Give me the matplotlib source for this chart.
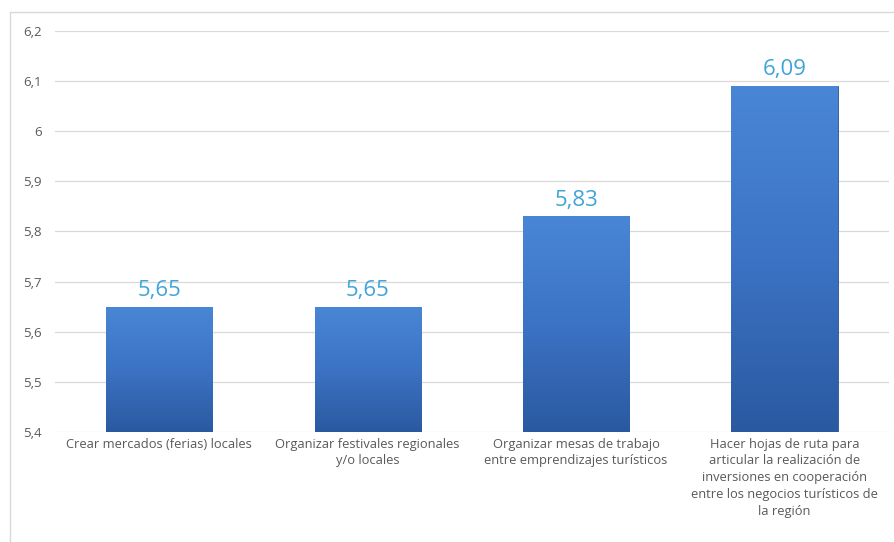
import matplotlib
matplotlib.use('Agg')
import matplotlib.pyplot as plt
import numpy as np
from matplotlib.patches import Rectangle
from matplotlib.ticker import FuncFormatter

categories = [
    "Crear mercados (ferias) locales",
    "Organizar festivales regionales\ny/o locales",
    "Organizar mesas de trabajo\nentre emprendizajes turísticos",
    "Hacer hojas de ruta para\narticular la realización de\ninversiones en cooperación\nentre los negocios turísticos de\nla región",
]
values = [5.65, 5.65, 5.83, 6.09]
y_ticks = [5.4, 5.5, 5.6, 5.7, 5.8, 5.9, 6.0, 6.1, 6.2]

plt.rcParams['font.family'] = ['Open Sans', 'DejaVu Sans']

fig = plt.figure(figsize=(8.95, 5.42), dpi=100)
ax = fig.add_axes([0.0615, 0.203, 0.9315, 0.740])

# outer chart border
fig.patches.append(Rectangle((10 / 895, -0.05), 1.0, 1.05 - 12 / 542,
                             transform=fig.transFigure, fill=False,
                             edgecolor='#d9d9d9', linewidth=1.0))

x = np.arange(len(categories))
bars = ax.bar(x, [v - 5.4 for v in values], bottom=5.4, width=0.51,
              color='#3a6fc0', edgecolor='#2a5590', linewidth=0.6, zorder=3)

# vertical gradient inside each bar (lighter top, darker bottom)
grad = np.linspace(0, 1, 256).reshape(-1, 1)
cmap = matplotlib.colors.LinearSegmentedColormap.from_list('b', ['#2a59a0', '#3c73c4', '#4a86d6'])
for b in bars:
    x0, y0 = b.get_x(), b.get_y()
    im = ax.imshow(grad, extent=[x0, x0 + b.get_width(), y0, y0 + b.get_height()],
                   origin='lower', aspect='auto', cmap=cmap, zorder=3.5)
    im.set_clip_path(b)

for b, v in zip(bars, values):
    ax.annotate(f"{v:.2f}".replace('.', ','),
                xy=(b.get_x() + b.get_width() / 2, b.get_y() + b.get_height()),
                xytext=(0, 4), textcoords='offset points',
                ha='center', va='bottom', fontsize=16, color='#3fa4d8', zorder=5)

ax.set_ylim(5.4, 6.2)
ax.set_xlim(-0.5, len(categories) - 0.5)
ax.set_yticks(y_ticks)
ax.yaxis.set_major_formatter(FuncFormatter(lambda v, p: f"{v:g}".replace('.', ',')))
ax.set_xticks(x)
ax.set_xticklabels(categories, fontsize=9.3, color='#595959', linespacing=1.38)
ax.tick_params(axis='y', labelsize=9.5, labelcolor='#595959', length=0, pad=9.5)
ax.tick_params(axis='x', length=0, pad=4)
ax.grid(axis='y', color='#d9d9d9', linewidth=0.9, zorder=0)
for s in ax.spines.values():
    s.set_visible(False)

plt.savefig("out.png", dpi=100)
